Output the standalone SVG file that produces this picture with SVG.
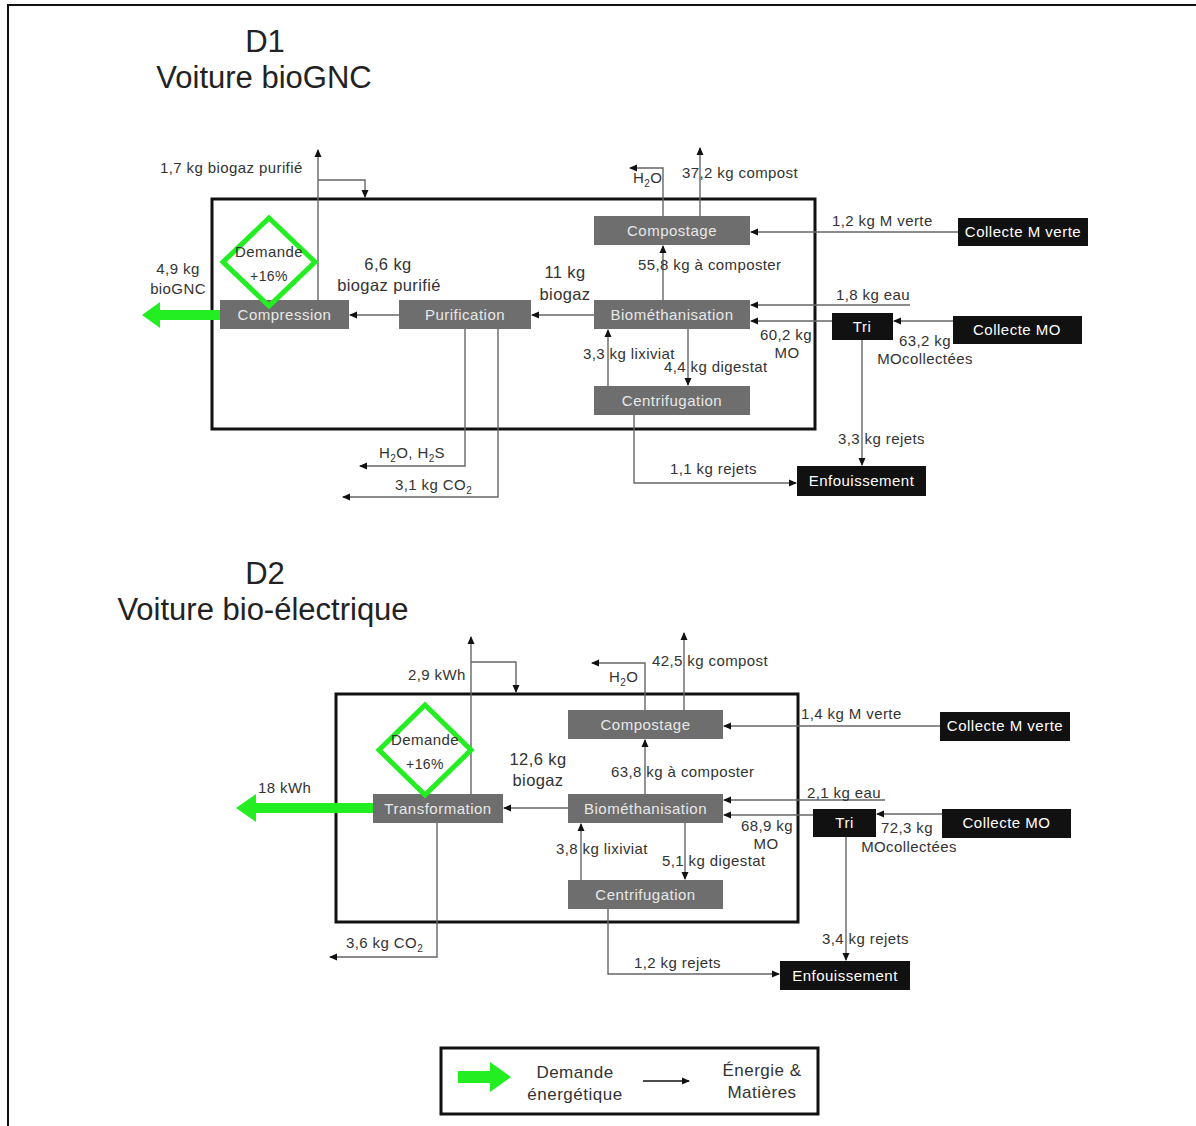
<svg xmlns="http://www.w3.org/2000/svg" width="1196" height="1126" viewBox="0 0 1196 1126">
<style>
text{font-family:"Liberation Sans",Arial,sans-serif;fill:#333}
.t{font-size:15px;letter-spacing:0.4px;text-anchor:middle}
.l{font-size:15px;letter-spacing:0.4px}
.big{font-size:16.5px;letter-spacing:0.4px}
.h{font-size:31px;text-anchor:middle;fill:#222}
.g rect{fill:#6e6e6e}
.g text{fill:#e8e8e8;font-size:15px;letter-spacing:0.5px;text-anchor:middle}
.k rect{fill:#111}
.k text{fill:#fff;font-size:15px;letter-spacing:0.5px;text-anchor:middle}
.frame{fill:none;stroke:#111;stroke-width:3}
.c path{fill:none;stroke:#666;stroke-width:1.4}
.d{fill:none;stroke:#22ee22;stroke-width:5}
.ga{fill:#22ee22}
.lg{font-size:17px;letter-spacing:0.5px;text-anchor:middle}
</style>
<defs>
<marker id="a" markerWidth="8" markerHeight="8" refX="7" refY="4" orient="auto" markerUnits="userSpaceOnUse">
<path d="M0,0.5 L8,4 L0,7.5 z" fill="#111"/>
</marker>
</defs>
<rect width="1196" height="1126" fill="#fff"/>
<path d="M8,1126 V5 H1196" fill="none" stroke="#111" stroke-width="2"/>

<!-- ===== D1 ===== -->
<text class="h" x="265" y="52">D1</text>
<text class="h" x="264" y="88">Voiture bioGNC</text>
<rect class="frame" x="212" y="199" width="603" height="230"/>

<g class="c">
<path d="M318,300 V150" marker-end="url(#a)"/>
<path d="M318,180 H365 V197" marker-end="url(#a)"/>
<path d="M399,315 H350" marker-end="url(#a)"/>
<path d="M594,315 H532" marker-end="url(#a)"/>
<path d="M465,329 V466 H360" marker-end="url(#a)"/>
<path d="M498,329 V497 H343" marker-end="url(#a)"/>
<path d="M663,216 V168 H630" marker-end="url(#a)"/>
<path d="M700,216 V148" marker-end="url(#a)"/>
<path d="M663,300 V246" marker-end="url(#a)"/>
<path d="M958,232 H751" marker-end="url(#a)"/>
<path d="M910,305 H751" marker-end="url(#a)"/>
<path d="M832,321 H751" marker-end="url(#a)"/>
<path d="M953,321 H894" marker-end="url(#a)"/>
<path d="M862,340 V465" marker-end="url(#a)"/>
<path d="M634,415 V483 H796" marker-end="url(#a)"/>
<path d="M608,386 V330" marker-end="url(#a)"/>
<path d="M688,329 V385" marker-end="url(#a)"/>
</g>

<g id="d1-compression" class="g"><rect x="220" y="300" width="129" height="29"/><text x="284.5" y="320">Compression</text></g>
<g id="d1-purification" class="g"><rect x="399" y="300" width="132" height="29"/><text x="465" y="320">Purification</text></g>
<g id="d1-compostage" class="g"><rect x="594" y="216" width="156" height="29"/><text x="672" y="236">Compostage</text></g>
<g id="d1-biomethanisation" class="g"><rect x="594" y="300" width="156" height="29"/><text x="672" y="320">Biométhanisation</text></g>
<g id="d1-centrifugation" class="g"><rect x="594" y="386" width="156" height="29"/><text x="672" y="406">Centrifugation</text></g>
<g id="d1-collecte-mverte" class="k"><rect x="958" y="218" width="130" height="28"/><text x="1023" y="237">Collecte M verte</text></g>
<g id="d1-tri" class="k"><rect x="832" y="313" width="61" height="27"/><text x="862" y="332">Tri</text></g>
<g id="d1-collecte-mo" class="k"><rect x="953" y="316" width="129" height="28"/><text x="1017" y="335">Collecte MO</text></g>
<g id="d1-enfouissement" class="k"><rect x="797" y="466" width="129" height="30"/><text x="861.5" y="486">Enfouissement</text></g>
<g id="d1-demande">
<path class="d" d="M269,218 L315,262 L269,306 L223,262 z"/>
<text class="t" x="269" y="257">Demande</text>
<text class="t" x="269" y="281" style="font-size:14px">+16%</text>
</g>
<path class="ga" d="M220,310 H160 V302 L142,315 L160,328 V320 H220 z"/>

<text class="t" x="178" y="274">4,9 kg</text>
<text class="t" x="178" y="294">bioGNC</text>
<text class="l" x="160" y="173">1,7 kg biogaz purifié</text>
<text class="t big" x="388" y="270">6,6 kg</text>
<text class="t big" x="389" y="291">biogaz purifié</text>
<text class="t big" x="565" y="278">11 kg</text>
<text class="t big" x="565" y="300">biogaz</text>
<text class="l" x="633" y="183">H<tspan dy="4" font-size="10">2</tspan><tspan dy="-4">O</tspan></text>
<text class="l" x="682" y="178">37,2 kg compost</text>
<text class="l" x="638" y="270">55,8 kg à composter</text>
<text class="l" x="832" y="226">1,2 kg M verte</text>
<text class="l" x="836" y="300">1,8 kg eau</text>
<text class="t" x="786" y="340">60,2 kg</text>
<text class="t" x="787" y="358">MO</text>
<text class="t" x="925" y="346">63,2 kg</text>
<text class="t" x="925" y="364">MOcollectées</text>
<text class="l" x="583" y="359">3,3 kg lixiviat</text>
<text class="l" x="664" y="372">4,4 kg digestat</text>
<text class="l" x="838" y="444">3,3 kg rejets</text>
<text class="l" x="670" y="474">1,1 kg rejets</text>
<text class="l" x="379" y="458">H<tspan dy="4" font-size="10">2</tspan><tspan dy="-4">O, H</tspan><tspan dy="4" font-size="10">2</tspan><tspan dy="-4">S</tspan></text>
<text class="l" x="395" y="490">3,1 kg CO<tspan dy="4" font-size="10">2</tspan></text>

<!-- ===== D2 ===== -->
<text class="h" x="265" y="584">D2</text>
<text class="h" x="263" y="620">Voiture bio-électrique</text>
<rect class="frame" x="336" y="694" width="462" height="228"/>

<g class="c">
<path d="M471,794 V637" marker-end="url(#a)"/>
<path d="M471,662 H516 V692" marker-end="url(#a)"/>
<path d="M568,808 H504" marker-end="url(#a)"/>
<path d="M437,823 V957 H330" marker-end="url(#a)"/>
<path d="M645,710 V663 H592" marker-end="url(#a)"/>
<path d="M684,710 V633" marker-end="url(#a)"/>
<path d="M645,794 V740" marker-end="url(#a)"/>
<path d="M940,726 H724" marker-end="url(#a)"/>
<path d="M885,800 H724" marker-end="url(#a)"/>
<path d="M813,815 H724" marker-end="url(#a)"/>
<path d="M942,814 H877" marker-end="url(#a)"/>
<path d="M846,837 V960" marker-end="url(#a)"/>
<path d="M608,909 V974 H779" marker-end="url(#a)"/>
<path d="M581,880 V824" marker-end="url(#a)"/>
<path d="M685,823 V879" marker-end="url(#a)"/>
</g>

<g id="d2-transformation" class="g"><rect x="373" y="794" width="130" height="29"/><text x="438" y="814">Transformation</text></g>
<g id="d2-compostage" class="g"><rect x="568" y="710" width="155" height="29"/><text x="645.5" y="730">Compostage</text></g>
<g id="d2-biomethanisation" class="g"><rect x="568" y="794" width="155" height="29"/><text x="645.5" y="814">Biométhanisation</text></g>
<g id="d2-centrifugation" class="g"><rect x="568" y="880" width="155" height="29"/><text x="645.5" y="900">Centrifugation</text></g>
<g id="d2-collecte-mverte" class="k"><rect x="940" y="712" width="130" height="29"/><text x="1005" y="731">Collecte M verte</text></g>
<g id="d2-tri" class="k"><rect x="813" y="809" width="63" height="28"/><text x="844.5" y="828">Tri</text></g>
<g id="d2-collecte-mo" class="k"><rect x="942" y="809" width="129" height="29"/><text x="1006.5" y="828">Collecte MO</text></g>
<g id="d2-enfouissement" class="k"><rect x="780" y="961" width="130" height="29"/><text x="845" y="981">Enfouissement</text></g>
<g id="d2-demande">
<path class="d" d="M425,705 L471,750 L425,795 L379,750 z"/>
<text class="t" x="425" y="745">Demande</text>
<text class="t" x="425" y="769" style="font-size:14px">+16%</text>
</g>
<path class="ga" d="M373,803 H256 V794 L236,808 L256,822 V813 H373 z"/>

<text class="l" x="258" y="793">18 kWh</text>
<text class="l" x="408" y="680">2,9 kWh</text>
<text class="t big" x="538" y="765">12,6 kg</text>
<text class="t big" x="538" y="786">biogaz</text>
<text class="l" x="609" y="682">H<tspan dy="4" font-size="10">2</tspan><tspan dy="-4">O</tspan></text>
<text class="l" x="652" y="666">42,5 kg compost</text>
<text class="l" x="611" y="777">63,8 kg à composter</text>
<text class="l" x="801" y="719">1,4 kg M verte</text>
<text class="l" x="807" y="798">2,1 kg eau</text>
<text class="t" x="767" y="831">68,9 kg</text>
<text class="t" x="766" y="849">MO</text>
<text class="t" x="907" y="833">72,3 kg</text>
<text class="t" x="909" y="852">MOcollectées</text>
<text class="l" x="556" y="854">3,8 kg lixiviat</text>
<text class="l" x="662" y="866">5,1 kg digestat</text>
<text class="l" x="822" y="944">3,4 kg rejets</text>
<text class="l" x="634" y="968">1,2 kg rejets</text>
<text class="l" x="346" y="948">3,6 kg CO<tspan dy="4" font-size="10">2</tspan></text>

<!-- ===== Legend ===== -->
<g id="legend">
<rect class="frame" x="441" y="1048" width="377" height="66"/>
<path class="ga" d="M458,1071 H490 V1062 L511,1077 L490,1092 V1083 H458 z"/>
<text class="lg" x="575" y="1078">Demande</text>
<text class="lg" x="575" y="1100">énergétique</text>
<path d="M643,1081 H689" stroke="#111" stroke-width="1.5" fill="none" marker-end="url(#a)"/>
<text class="lg" x="762" y="1076">Énergie &amp;</text>
<text class="lg" x="762" y="1098">Matières</text>
</g>
</svg>
